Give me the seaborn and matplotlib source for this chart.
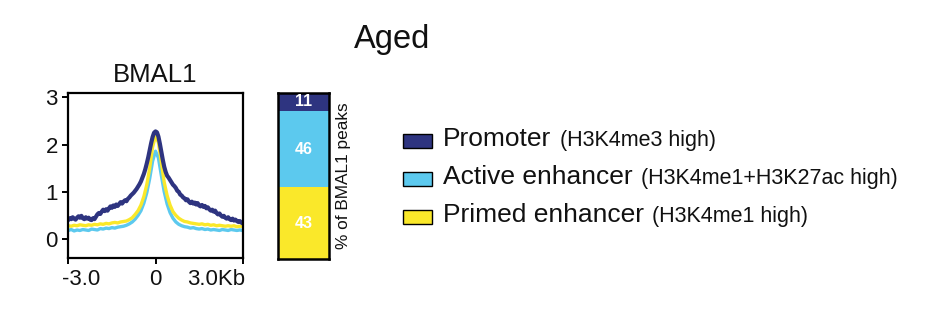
import numpy as np
import matplotlib
matplotlib.use("Agg")
import matplotlib.pyplot as plt
import seaborn as sns
import pandas as pd
from matplotlib.patches import Rectangle
from matplotlib.transforms import ScaledTranslation

# ---------------- data ----------------
promoter_signal = [0.40, 0.44, 0.42, 0.46, 0.43, 0.41, 0.45, 0.48, 0.45, 0.49,
                   0.44, 0.42, 0.46, 0.43, 0.45, 0.41, 0.40, 0.44, 0.42, 0.47,
                   0.52, 0.55, 0.53, 0.58, 0.62, 0.59, 0.63, 0.60, 0.65, 0.69,
                   0.66, 0.71, 0.68, 0.73, 0.70, 0.74, 0.78, 0.75, 0.79, 0.82,
                   0.80, 0.85, 0.88, 0.92, 0.95, 0.98, 1.02, 1.06, 1.11, 1.16,
                   1.22, 1.30, 1.38, 1.48, 1.60, 1.73, 1.88, 2.03, 2.16, 2.25,
                   2.28,
                   2.26, 2.17, 2.02, 1.85, 1.68, 1.53, 1.42, 1.34, 1.30, 1.25,
                   1.20, 1.15, 1.12, 1.08, 1.02, 1.00, 0.94, 0.92, 0.88, 0.86,
                   0.82, 0.84, 0.79, 0.76, 0.79, 0.75, 0.77, 0.73, 0.76, 0.71,
                   0.69, 0.72, 0.68, 0.70, 0.65, 0.67, 0.63, 0.60, 0.62, 0.58,
                   0.60, 0.55, 0.52, 0.54, 0.50, 0.47, 0.49, 0.45, 0.43, 0.46,
                   0.42, 0.40, 0.43, 0.39, 0.41, 0.38, 0.36, 0.38, 0.35, 0.33]
active_signal = [0.18, 0.20, 0.17, 0.19, 0.18, 0.20, 0.19, 0.18, 0.21, 0.20,
                 0.19, 0.22, 0.21, 0.23, 0.22, 0.24, 0.23, 0.25, 0.26, 0.27,
                 0.29, 0.32, 0.36, 0.42, 0.50, 0.60, 0.76, 0.98, 1.28, 1.65,
                 1.86, 1.72, 1.35, 1.00, 0.74, 0.56, 0.44, 0.36, 0.31, 0.28,
                 0.26, 0.25, 0.23, 0.24, 0.22, 0.21, 0.22, 0.20, 0.21, 0.19,
                 0.20, 0.19, 0.18, 0.20, 0.19, 0.18, 0.20, 0.19, 0.18, 0.19,
                 0.18]
primed_signal = [0.28, 0.27, 0.29, 0.28, 0.30, 0.29, 0.28, 0.30, 0.29, 0.31,
                 0.30, 0.32, 0.31, 0.33, 0.32, 0.34, 0.35, 0.34, 0.36, 0.37,
                 0.38, 0.41, 0.45, 0.52, 0.60, 0.72, 0.90, 1.15, 1.50, 1.95,
                 2.18, 2.05, 1.62, 1.20, 0.92, 0.72, 0.58, 0.50, 0.44, 0.40,
                 0.37, 0.36, 0.34, 0.33, 0.32, 0.31, 0.32, 0.30, 0.31, 0.29,
                 0.30, 0.28, 0.29, 0.28, 0.27, 0.28, 0.27, 0.28, 0.26, 0.27,
                 0.27]

categories = ["Promoter", "Active enhancer", "Primed enhancer"]
marks = ["(H3K4me3 high)", "(H3K4me1+H3K27ac high)", "(H3K4me1 high)"]
percent_peaks = [11, 46, 43]
colors = ["#2E3480", "#5CC9EE", "#FAE82A"]

x_range_kb = (-3.0, 3.0)
x_ticks = [-3, 0, 3]
x_ticklabels = ["-3.0", "0", "3.0Kb"]
y_ticks = [0, 1, 2, 3]

# ---------------- style ----------------
sns.set_theme(style="white")
plt.rcParams['font.family'] = ['Liberation Sans', 'DejaVu Sans']

W, H = 932, 318
fig = plt.figure(figsize=(W / 100, H / 100), dpi=100)


def box(l, t, r, b):
    return [l / W, 1 - b / H, (r - l) / W, (b - t) / H]


# ---------------- profile plot ----------------
ax = fig.add_axes(box(68.3, 92.7, 242.7, 258.3))
series = {"Promoter": promoter_signal, "Active enhancer": active_signal,
          "Primed enhancer": primed_signal}
widths = {"Promoter": 3.0, "Active enhancer": 2.4, "Primed enhancer": 2.4}
for cat in ["Active enhancer", "Primed enhancer", "Promoter"]:
    vals = series[cat]
    df = pd.DataFrame({"pos": np.linspace(x_range_kb[0], x_range_kb[1], len(vals)),
                       "signal": vals})
    sns.lineplot(data=df, x="pos", y="signal", color=colors[categories.index(cat)],
                 linewidth=widths[cat], ax=ax, legend=False)

ax.set_xlim(*x_range_kb)
ax.set_ylim(-0.41, 3.1)
ax.set_xticks(x_ticks)
ax.set_xticklabels(x_ticklabels, fontsize=16)
ax.set_yticks(y_ticks)
ax.set_yticklabels([str(v) for v in y_ticks], fontsize=16)
ax.set_xlabel("")
ax.set_ylabel("")
for s in ax.spines.values():
    s.set_color("black")
    s.set_linewidth(1.6)
ax.tick_params(axis="both", direction="out", length=4.5, width=1.4, color="black",
               labelcolor="#111111", pad=3, bottom=True, left=True)
labs = ax.get_xticklabels()
labs[0].set_horizontalalignment("left")
labs[0].set_transform(labs[0].get_transform() + ScaledTranslation(-6 / 100, 0, fig.dpi_scale_trans))
labs[-1].set_horizontalalignment("right")
labs[-1].set_transform(labs[-1].get_transform() + ScaledTranslation(3 / 100, 0, fig.dpi_scale_trans))
ax.set_title("BMAL1", fontsize=18.5, pad=8, color="#111111")

# ---------------- stacked bar ----------------
ax2 = fig.add_axes(box(278.3, 92.7, 329, 259))
stack_order = [2, 1, 0]  # primed at bottom, promoter at top
bottom = 0
for i in stack_order:
    ax2.bar(0, percent_peaks[i], bottom=bottom, width=1.0, color=colors[i],
            edgecolor="none")
    ax2.text(0, bottom + percent_peaks[i] / 2, str(percent_peaks[i]),
             ha="center", va="center", color="white", fontsize=11.5,
             fontweight="bold")
    bottom += percent_peaks[i]
ax2.set_xlim(-0.5, 0.5)
ax2.set_ylim(0, 100)
ax2.set_xticks([])
ax2.set_yticks([])
for s in ax2.spines.values():
    s.set_color("black")
    s.set_linewidth(1.8)
ax2.yaxis.set_label_position("right")
ax2.set_ylabel("% of BMAL1 peaks", fontsize=12.4, labelpad=5, color="#111111")

# ---------------- figure title ----------------
fig.text(391.7 / W, 1 - 48.3 / H, "Aged", ha="center", va="baseline",
         fontsize=23.5, color="#111111")

# ---------------- legend ----------------
baselines = [146.0, 184.0, 222.0]
main_texts = []
for i, cat in enumerate(categories):
    yb = baselines[i]
    rect = Rectangle((403.3 / W, 1 - (yb - 13 + 15) / H), 28.4 / W, 14.5 / H,
                     transform=fig.transFigure, facecolor=colors[i],
                     edgecolor="black", linewidth=1.0)
    fig.add_artist(rect)
    t = fig.text(443.3 / W, 1 - yb / H, cat, ha="left", va="baseline",
                 fontsize=19, color="#111111")
    main_texts.append(t)

fig.canvas.draw()
renderer = fig.canvas.get_renderer()
for i, t in enumerate(main_texts):
    bb = t.get_window_extent(renderer)
    fig.text((bb.x1 + 8) / W, 1 - baselines[i] / H, marks[i], ha="left",
             va="baseline", fontsize=15.5, color="#111111")

fig.savefig("out.png", dpi=100)
